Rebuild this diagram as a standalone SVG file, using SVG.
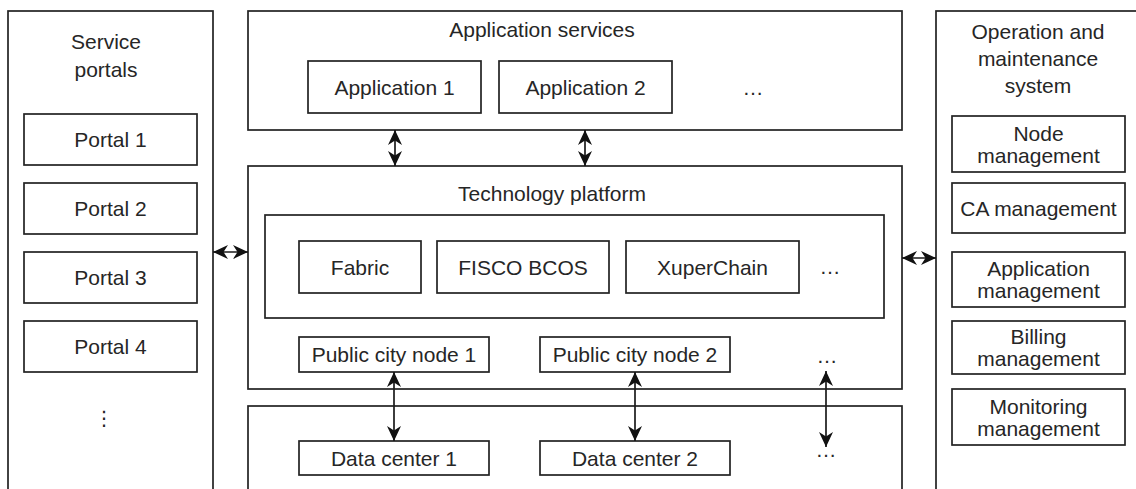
<svg xmlns="http://www.w3.org/2000/svg" width="1136" height="489" viewBox="0 0 1136 489">
<style>
.box{fill:#fff;stroke:#222;stroke-width:1.7}
.t{font-family:"Liberation Sans",Arial,sans-serif;font-size:21px;fill:#262626;text-anchor:middle}
.c{stroke:#1a1a1a;stroke-width:1.7;fill:none;marker-start:url(#ah);marker-end:url(#ah)}
</style>
<defs>
<marker id="ah" viewBox="0 0 15 15" refX="15" refY="7.5" markerWidth="15" markerHeight="15" markerUnits="userSpaceOnUse" orient="auto-start-reverse">
<path d="M0,0.5 L15,7.5 L0,14.5 L4.5,7.5 z" fill="#111"/>
</marker>
</defs>
<rect width="1136" height="489" fill="#fff"/>
<g id="service-portals">
<rect class="box" x="8" y="11" width="205" height="490"/>
<text class="t" x="106" y="49">Service</text>
<text class="t" x="106" y="77">portals</text>
</g>
<g id="portal1"><rect class="box" x="24" y="114" width="173" height="51"/><text class="t" x="110.5" y="147">Portal 1</text></g>
<g id="portal2"><rect class="box" x="24" y="183" width="173" height="51"/><text class="t" x="110.5" y="216">Portal 2</text></g>
<g id="portal3"><rect class="box" x="24" y="252" width="173" height="51"/><text class="t" x="110.5" y="285">Portal 3</text></g>
<g id="portal4"><rect class="box" x="24" y="321" width="173" height="51"/><text class="t" x="110.5" y="354">Portal 4</text></g>
<g id="portal-more"><text class="t" x="104" y="425" style="font-family:'DejaVu Sans',sans-serif;font-size:20px">⋮</text></g>

<g id="application-services">
<rect class="box" x="248" y="11" width="654" height="119"/>
<text class="t" x="542" y="37">Application services</text>
<text class="t" x="753" y="95">…</text>
</g>
<g id="app1"><rect class="box" x="308" y="61" width="173" height="52"/><text class="t" x="394.5" y="94.5">Application 1</text></g>
<g id="app2"><rect class="box" x="499" y="61" width="173" height="52"/><text class="t" x="585.5" y="94.5">Application 2</text></g>

<g id="technology-platform">
<rect class="box" x="248" y="166" width="654" height="223"/>
<text class="t" x="552" y="201">Technology platform</text>
<text class="t" x="827" y="363">…</text>
</g>
<g id="chains">
<rect class="box" x="265" y="215" width="619" height="103"/>
<text class="t" x="830" y="274">…</text>
</g>
<g id="fabric"><rect class="box" x="299" y="241" width="122" height="52"/><text class="t" x="360" y="274.5">Fabric</text></g>
<g id="fisco"><rect class="box" x="437" y="241" width="172" height="52"/><text class="t" x="523" y="274.5">FISCO BCOS</text></g>
<g id="xuperchain"><rect class="box" x="626" y="241" width="173" height="52"/><text class="t" x="712.5" y="274.5">XuperChain</text></g>
<g id="city1"><rect class="box" x="299" y="337" width="190" height="35"/><text class="t" x="394" y="362">Public city node 1</text></g>
<g id="city2"><rect class="box" x="540" y="337" width="190" height="35"/><text class="t" x="635" y="362">Public city node 2</text></g>

<g id="data-layer">
<rect class="box" x="248" y="406" width="654" height="100"/>
<text class="t" x="826" y="457">…</text>
</g>
<g id="dc1"><rect class="box" x="299" y="441" width="190" height="34"/><text class="t" x="394" y="465.5">Data center 1</text></g>
<g id="dc2"><rect class="box" x="540" y="441" width="190" height="34"/><text class="t" x="635" y="465.5">Data center 2</text></g>

<g id="operation-system">
<rect class="box" x="936" y="11" width="220" height="490"/>
<text class="t" x="1038" y="39">Operation and</text>
<text class="t" x="1038" y="66">maintenance</text>
<text class="t" x="1038" y="93">system</text>
</g>
<g id="node-mgmt"><rect class="box" x="952" y="116" width="173" height="56"/><text class="t" x="1038.5" y="140.5">Node</text><text class="t" x="1038.5" y="162.5">management</text></g>
<g id="ca-mgmt"><rect class="box" x="952" y="183" width="173" height="50"/><text class="t" x="1038.5" y="215.5">CA management</text></g>
<g id="app-mgmt"><rect class="box" x="952" y="252" width="173" height="55"/><text class="t" x="1038.5" y="276">Application</text><text class="t" x="1038.5" y="298">management</text></g>
<g id="billing-mgmt"><rect class="box" x="952" y="321" width="173" height="53"/><text class="t" x="1038.5" y="344">Billing</text><text class="t" x="1038.5" y="366">management</text></g>
<g id="monitoring-mgmt"><rect class="box" x="952" y="389" width="173" height="56"/><text class="t" x="1038.5" y="413.5">Monitoring</text><text class="t" x="1038.5" y="435.5">management</text></g>

<g id="connectors">
<line class="c" x1="395" y1="130" x2="395" y2="166"/>
<line class="c" x1="585" y1="130" x2="585" y2="166"/>
<line class="c" x1="213" y1="252" x2="248" y2="252"/>
<line class="c" x1="902" y1="258" x2="936" y2="258"/>
<line class="c" x1="394" y1="372" x2="394" y2="441"/>
<line class="c" x1="635" y1="372" x2="635" y2="441"/>
<line class="c" x1="826" y1="371" x2="826" y2="447"/>
</g>
</svg>
